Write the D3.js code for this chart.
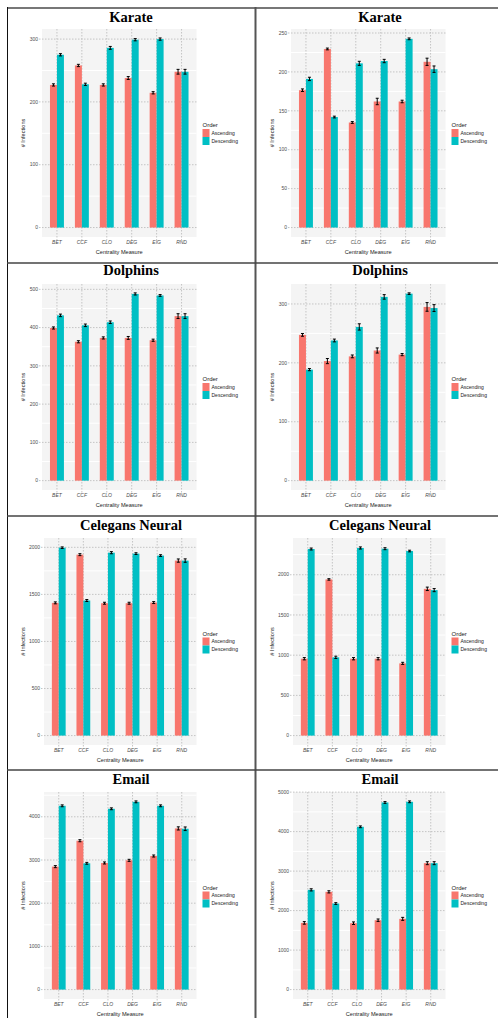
<!DOCTYPE html>
<html>
<head>
<meta charset="utf-8">
<script src="https://cdn.jsdelivr.net/npm/d3@7"></script>
<style>
body { margin:0; background:#fff; }
svg { display:block; }
</style>
</head>
<body>
<svg id="chart" width="498" height="1018"></svg>
<script>
var categories = ["BET","CCF","CLO","DEG","EIG","RND"];
var orders = ["Ascending","Descending"];
var colors = ["#F8766D","#00BFC4"];

// Karate
var karateLeftAsc = [227,258,227,238,214.5,248];
var karateLeftDesc = [275,228,286,299,300,248];
var karateLeftAscErr = [1,1,1,1.5,1,3];
var karateLeftDescErr = [1,1,1.5,1,1,3];
var karateLeftTicks = [0,100,200,300];

var karateRightAsc = [176.5,229.5,135,162,162,213];
var karateRightDesc = [191,142,211,214,242.5,203.5];
var karateRightAscErr = [1,0.5,0.5,3.5,1,4];
var karateRightDescErr = [1.5,0.5,2,1.5,0.5,3.5];
var karateRightTicks = [0,50,100,150,200,250];

// Dolphins
var dolphinsLeftAsc = [399,363,373,373,367,430];
var dolphinsLeftDesc = [432,406,414,488,484,430];
var dolphinsLeftAscErr = [1.5,1.5,1.5,2.5,1.5,5];
var dolphinsLeftDescErr = [2,2,2,1.5,1,5];
var dolphinsLeftTicks = [0,100,200,300,400,500];

var dolphinsRightAsc = [247.5,203,211,221,214,295];
var dolphinsRightDesc = [188.5,238,261,312,317.5,293];
var dolphinsRightAscErr = [1.5,3.5,1.5,3.5,1,6.5];
var dolphinsRightDescErr = [1,1.5,4.5,3,0.5,5];
var dolphinsRightTicks = [0,100,200,300];

// Celegans Neural
var celegansLeftAsc = [1410,1922,1406,1406,1413,1859];
var celegansLeftDesc = [1996,1435,1943,1933,1912,1859];
var celegansLeftAscErr = [5,5,5,5,5,12];
var celegansLeftDescErr = [3,5,6,4,4,13];
var celegansLeftTicks = [0,500,1000,1500,2000];

var celegansRightAsc = [956,1942,956,956,898,1825];
var celegansRightDesc = [2320,973,2333,2324,2295,1809];
var celegansRightAscErr = [8,3,8,8,7,15];
var celegansRightDescErr = [6,8,7,6,4,13];
var celegansRightTicks = [0,500,1000,1500,2000];

// Email
var emailLeftAsc = [2846,3446,2931,2992,3092,3731];
var emailLeftDesc = [4254,2923,4185,4346,4254,3723];
var emailLeftAscErr = [12,12,12,12,12,25];
var emailLeftDescErr = [10,10,10,10,10,30];
var emailLeftTicks = [0,1000,2000,3000,4000];

var emailRightAsc = [1689,2475,1681,1757,1791,3201];
var emailRightDesc = [2525,2179,4122,4738,4755,3201];
var emailRightAscErr = [20,15,20,18,25,25];
var emailRightDescErr = [15,10,10,10,10,25];
var emailRightTicks = [0,1000,2000,3000,4000,5000];

var titles = ["Karate","Dolphins","Celegans Neural","Email"];

// layout of the 4 rows and 2 columns
var colX = [0, 249];
var panelTop = [29, 284, 538, 792];
var panelBottom = [237, 490, 745, 999];
var titleY = [22, 275, 530, 784];

var panels = [
  {row:0, col:0, asc:karateLeftAsc, desc:karateLeftDesc, ascErr:karateLeftAscErr, descErr:karateLeftDescErr, ticks:karateLeftTicks},
  {row:0, col:1, asc:karateRightAsc, desc:karateRightDesc, ascErr:karateRightAscErr, descErr:karateRightDescErr, ticks:karateRightTicks},
  {row:1, col:0, asc:dolphinsLeftAsc, desc:dolphinsLeftDesc, ascErr:dolphinsLeftAscErr, descErr:dolphinsLeftDescErr, ticks:dolphinsLeftTicks},
  {row:1, col:1, asc:dolphinsRightAsc, desc:dolphinsRightDesc, ascErr:dolphinsRightAscErr, descErr:dolphinsRightDescErr, ticks:dolphinsRightTicks},
  {row:2, col:0, asc:celegansLeftAsc, desc:celegansLeftDesc, ascErr:celegansLeftAscErr, descErr:celegansLeftDescErr, ticks:celegansLeftTicks},
  {row:2, col:1, asc:celegansRightAsc, desc:celegansRightDesc, ascErr:celegansRightAscErr, descErr:celegansRightDescErr, ticks:celegansRightTicks},
  {row:3, col:0, asc:emailLeftAsc, desc:emailLeftDesc, ascErr:emailLeftAscErr, descErr:emailLeftDescErr, ticks:emailLeftTicks},
  {row:3, col:1, asc:emailRightAsc, desc:emailRightDesc, ascErr:emailRightAscErr, descErr:emailRightDescErr, ticks:emailRightTicks}
];

var svg = d3.select("svg#chart");
var sans = "'Liberation Sans', Arial, sans-serif";

var drawPanel = function(p){
  var x0 = colX[p.col];
  var wide = d3.max(p.ticks, function(t){ return String(t).length; }) >= 4;
  var left = x0 + (wide ? 44 : 42);
  var right = x0 + 196.5;
  var top = panelTop[p.row], bottom = panelBottom[p.row];

  var rows = categories.map(function(c, i){
    return {cat:c, vals:[
      {order:orders[0], v:p.asc[i], e:p.ascErr[i]},
      {order:orders[1], v:p.desc[i], e:p.descErr[i]}
    ]};
  });
  var maxTop = d3.max(rows, function(r){ return d3.max(r.vals, function(d){ return d.v + d.e; }); });

  var x = d3.scalePoint().domain(categories).range([left, right]).padding(0.6);
  var dodge = d3.scaleBand().domain(orders).range([-x.step()*0.28, x.step()*0.28]);
  var y = d3.scaleLinear().domain([-0.05*maxTop, maxTop*1.05]).range([bottom, top]);

  var g = svg.append("g");
  g.append("rect").attr("x", left).attr("y", top)
    .attr("width", right-left).attr("height", bottom-top).attr("fill", "#F4F4F4");

  // minor white gridlines
  var step = p.ticks[1] - p.ticks[0];
  var minors = [];
  for (var k = 0; k < p.ticks.length + 1; k++) {
    var m = p.ticks[0] + step*(k + 0.5);
    if (m < y.domain()[1]) minors.push(m);
  }
  g.selectAll("line.minor").data(minors).enter().append("line")
    .attr("x1", left).attr("x2", right)
    .attr("y1", function(d){ return y(d); }).attr("y2", function(d){ return y(d); })
    .attr("stroke", "#fff").attr("stroke-width", 1);

  // dotted major gridlines
  g.selectAll("line.hmaj").data(p.ticks).enter().append("line")
    .attr("x1", left-3).attr("x2", right)
    .attr("y1", function(d){ return y(d); }).attr("y2", function(d){ return y(d); })
    .attr("stroke", "#c4c4c4").attr("stroke-width", 1).attr("stroke-dasharray", "1.5,1.5");
  g.selectAll("line.vmaj").data(categories).enter().append("line")
    .attr("x1", function(d){ return x(d); }).attr("x2", function(d){ return x(d); })
    .attr("y1", top).attr("y2", bottom+3)
    .attr("stroke", "#c4c4c4").attr("stroke-width", 1).attr("stroke-dasharray", "1.5,1.5");

  // bars
  var grp = g.selectAll("g.cat").data(rows).enter().append("g")
    .attr("transform", function(r){ return "translate(" + x(r.cat) + ",0)"; });
  grp.selectAll("rect").data(function(r){ return r.vals; }).enter().append("rect")
    .attr("x", function(d){ return dodge(d.order); })
    .attr("width", dodge.bandwidth())
    .attr("y", function(d){ return y(d.v); })
    .attr("height", function(d){ return y(0) - y(d.v); })
    .attr("fill", function(d, i){ return colors[i]; });

  // error bars
  var eb = grp.selectAll("g.err").data(function(r){ return r.vals; }).enter().append("g")
    .attr("transform", function(d){ return "translate(" + (dodge(d.order) + dodge.bandwidth()/2) + ",0)"; })
    .attr("stroke", "#000").attr("stroke-width", 1);
  eb.append("line").attr("x1", 0).attr("x2", 0)
    .attr("y1", function(d){ return y(d.v - d.e) + 0.5; }).attr("y2", function(d){ return y(d.v + d.e) - 0.5; });
  eb.append("line").attr("x1", -1.5).attr("x2", 1.5)
    .attr("y1", function(d){ return y(d.v + d.e) - 0.5; }).attr("y2", function(d){ return y(d.v + d.e) - 0.5; });
  eb.append("line").attr("x1", -1.5).attr("x2", 1.5)
    .attr("y1", function(d){ return y(d.v - d.e) + 0.5; }).attr("y2", function(d){ return y(d.v - d.e) + 0.5; });

  // y tick labels
  g.selectAll("text.ytick").data(p.ticks).enter().append("text")
    .attr("x", left-4).attr("y", function(d){ return y(d) + 1.7; })
    .attr("text-anchor", "end").attr("font-family", sans).attr("font-size", 5)
    .attr("fill", "#4d4d4d").text(function(d){ return d; });

  // x tick labels
  g.selectAll("text.xtick").data(categories).enter().append("text")
    .attr("x", function(d){ return x(d); }).attr("y", bottom+6.5)
    .attr("text-anchor", "middle").attr("font-family", sans).attr("font-size", 5)
    .attr("font-style", "italic").attr("fill", "#4d4d4d").text(function(d){ return d; });

  // axis titles
  g.append("text").attr("x", (left+right)/2).attr("y", bottom+17)
    .attr("text-anchor", "middle").attr("font-family", sans).attr("font-size", 5.6)
    .attr("fill", "#1a1a1a").text("Centrality Measure");
  g.append("text")
    .attr("transform", "translate(" + (x0+24.5) + "," + ((top+bottom)/2) + ") rotate(-90)")
    .attr("text-anchor", "middle").attr("font-family", sans).attr("font-size", 5.6)
    .attr("fill", "#1a1a1a").text("# Infections");

  // title
  g.append("text").attr("x", x0+131).attr("y", titleY[p.row])
    .attr("text-anchor", "middle").attr("font-family", "'Liberation Serif', 'Times New Roman', serif")
    .attr("font-weight", "bold").attr("font-size", 14.5).attr("fill", "#000")
    .text(titles[p.row]);

  // legend
  var mid = (top+bottom)/2;
  var lg = g.append("g").attr("transform", "translate(" + (right+6) + "," + (mid-4) + ")");
  lg.append("text").attr("x", 0).attr("y", -2).attr("font-family", sans)
    .attr("font-size", 6).attr("fill", "#1a1a1a").text("Order");
  lg.selectAll("rect").data(orders).enter().append("rect")
    .attr("x", 0).attr("y", function(d, i){ return i*8; })
    .attr("width", 7).attr("height", 8).attr("fill", function(d, i){ return colors[i]; });
  lg.selectAll("text.key").data(orders).enter().append("text")
    .attr("x", 9).attr("y", function(d, i){ return i*8 + 5.5; })
    .attr("font-family", sans).attr("font-size", 5).attr("fill", "#1a1a1a")
    .text(function(d){ return d; });
};

panels.forEach(drawPanel);

// table borders
svg.append("line").attr("x1", 7).attr("x2", 498).attr("y1", 8).attr("y2", 8)
  .attr("stroke", "#777").attr("stroke-width", 2);
svg.append("line").attr("x1", 7.5).attr("x2", 7.5).attr("y1", 7).attr("y2", 1018)
  .attr("stroke", "#111").attr("stroke-width", 1);
svg.append("line").attr("x1", 255.5).attr("x2", 255.5).attr("y1", 7).attr("y2", 1018)
  .attr("stroke", "#555").attr("stroke-width", 2);
[263, 516, 770].forEach(function(yy){
  svg.append("line").attr("x1", 7).attr("x2", 498).attr("y1", yy).attr("y2", yy)
    .attr("stroke", "#444").attr("stroke-width", 1.5);
});
</script>
</body>
</html>
